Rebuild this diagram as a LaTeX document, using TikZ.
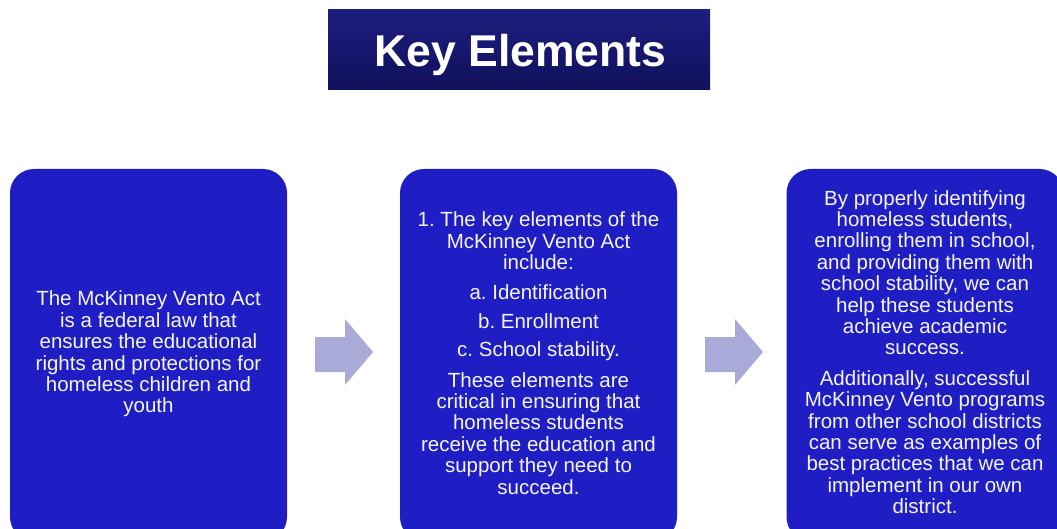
\documentclass[tikz,border=0pt]{standalone}
\usepackage{fontspec}
\setmainfont{Liberation Sans}
\frenchspacing
\definecolor{boxblue}{RGB}{30,30,196}
\definecolor{titletop}{RGB}{30,30,128}
\definecolor{titlebot}{RGB}{16,16,92}
\definecolor{arrowlav}{RGB}{170,170,216}
\definecolor{textwhite}{RGB}{245,245,250}
\begin{document}
\begin{tikzpicture}[x=1pt,y=-1pt,
  card/.style={fill=boxblue, rounded corners=24pt, minimum width=277pt, minimum height=372pt, inner sep=0pt},
  cardtext/.style={text=textwhite, align=center, inner sep=0pt, font=\fontsize{20.5}{21.4}\selectfont},
  titlebox/.style={top color=titletop, bottom color=titlebot, minimum width=382pt, minimum height=80pt, inner sep=0pt},
  flow/.style={fill=arrowlav, draw=none}]
\useasboundingbox (0,0) rectangle (1057,529);
\clip (0,0) rectangle (1057,529);
\node[titlebox] (title) at (519,50) {};
\node[text=white, font=\fontsize{44.5}{50}\selectfont\bfseries, anchor=base, inner sep=0pt] (titletext) at (520.5,66.5) {Key Elements};
\node[card] (b1) at (148.5,355) {};
\node[card] (b2) at (538.5,355) {};
\node[card] (b3) at (925,355) {};
\node[cardtext] (t1) at (148.5,354) {The McKinney Vento Act\\is a federal law that\\ensures the educational\\rights and protections for\\homeless children and\\youth};
\node[cardtext] (t2) at (538.5,353) {1. The key elements of the\\McKinney Vento Act\\include:\\[9pt]a. Identification\\[7pt]b. Enrollment\\[7pt]c. School stability.\\[9pt]These elements are\\critical in ensuring that\\homeless students\\receive the education and\\support they need to\\succeed.};
\node[cardtext] (t3) at (925,352) {By properly identifying\\homeless students,\\enrolling them in school,\\and providing them with\\school stability, we can\\help these students\\achieve academic\\success.\\[9pt]Additionally, successful\\McKinney Vento programs\\from other school districts\\can serve as examples of\\best practices that we can\\implement in our own\\district.};
\fill[flow] (315,337) -- (345,337) -- (345,319) -- (373,352) -- (345,385) -- (345,372) -- (315,372) -- cycle;
\fill[flow] (705,337) -- (735,337) -- (735,319) -- (763,352) -- (735,385) -- (735,372) -- (705,372) -- cycle;
\end{tikzpicture}
\end{document}
